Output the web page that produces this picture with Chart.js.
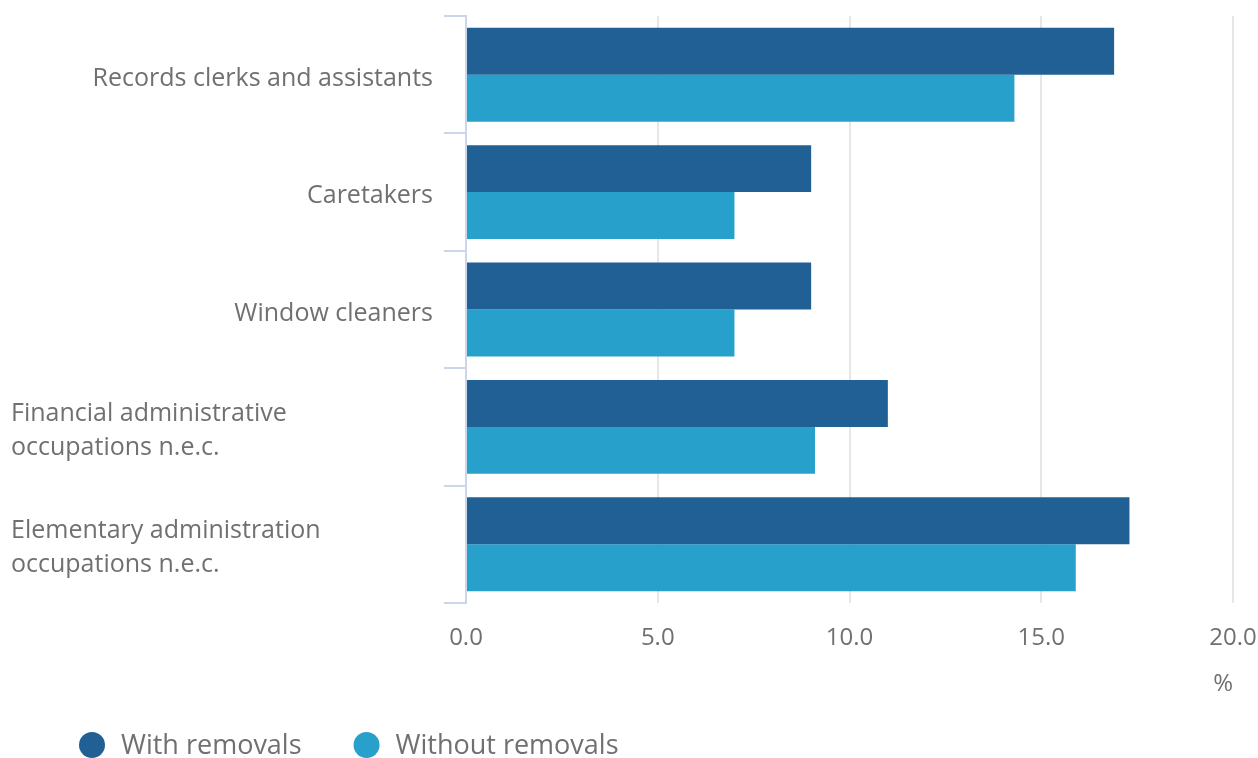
<!DOCTYPE html>
<html lang="en">
  <head>
    <meta charset="UTF-8">
    <title>Occupations</title>
    <script src="https://cdn.jsdelivr.net/npm/chart.js@4/dist/chart.umd.min.js"></script>
    <style>
      body { margin: 0; background: #fff; }
      #chart { display: block; }
    </style>
  </head>
  <body>
    <canvas id="chart" width="1258" height="758"></canvas>
    <script>
      const categories = [
        'Records clerks and assistants',
        'Caretakers',
        'Window cleaners',
        ['Financial administrative', 'occupations n.e.c.'],
        ['Elementary administration', 'occupations n.e.c.'],
      ]
      const withRemovals = [16.9, 9.0, 9.0, 11.0, 17.3]
      const withoutRemovals = [14.3, 7.0, 7.0, 9.1, 15.9]
      const seriesNames = ['With removals', 'Without removals']
      const xTicks = [0, 5, 10, 15, 20]

      const FONT = '"Open Sans", sans-serif'
      const TEXT = '#707070'
      const AXIS = '#ccd6eb'

      // category labels: single lines sit right against the axis, wrapped ones start at the left edge
      const yLabels = {
        id: 'yLabels',
        afterDraw(chart) {
          const { ctx, scales: { y } } = chart
          ctx.save()
          ctx.font = `25px ${FONT}`
          ctx.fillStyle = TEXT
          ctx.textBaseline = 'middle'
          chart.data.labels.forEach((label, i) => {
            const cy = y.getPixelForValue(i) + 4
            if (Array.isArray(label)) {
              ctx.textAlign = 'left'
              label.forEach((line, j) => {
                ctx.fillText(line, 11, cy + (j - (label.length - 1) / 2) * 34)
              })
            } else {
              ctx.textAlign = 'right'
              ctx.fillText(label, y.right - 33, cy)
            }
          })
          ctx.restore()
        }
      }

      const legendDots = {
        id: 'legendDots',
        afterDraw(chart) {
          const { ctx } = chart
          ctx.save()
          ctx.font = `27px ${FONT}`
          ctx.textBaseline = 'middle'
          ctx.textAlign = 'left'
          let x = 79
          const cy = 745
          chart.data.datasets.forEach(ds => {
            ctx.fillStyle = ds.backgroundColor
            ctx.beginPath()
            ctx.arc(x + 13, cy, 13, 0, Math.PI * 2)
            ctx.fill()
            ctx.fillStyle = TEXT
            ctx.fillText(ds.label, x + 42, cy + 1)
            x += 42 + ctx.measureText(ds.label).width + 52
          })
          ctx.restore()
        }
      }

      new Chart(document.getElementById('chart'), {
        type: 'bar',
        data: {
          labels: categories,
          datasets: [
            { label: seriesNames[0], data: withRemovals, backgroundColor: '#206095' },
            { label: seriesNames[1], data: withoutRemovals, backgroundColor: '#27a0cc' },
          ]
        },
        options: {
          indexAxis: 'y',
          responsive: false,
          animation: false,
          layout: { padding: { top: 16, right: 25, bottom: 55, left: 0 } },
          datasets: { bar: { categoryPercentage: 0.8, barPercentage: 1.0 } },
          plugins: {
            legend: { display: false },
            tooltip: { enabled: false },
          },
          scales: {
            x: {
              min: xTicks[0],
              max: xTicks[xTicks.length - 1],
              afterBuildTicks: s => { s.ticks = xTicks.map(value => ({ value })) },
              afterFit: s => {
                s.height = 100
                s.paddingRight = 0
                s.paddingLeft = 0
              },
              border: { display: false },
              grid: {
                drawTicks: false,
                lineWidth: 2,
                color: c => c.tick && c.tick.value === 0 ? 'rgba(0,0,0,0)' : '#e6e6e6',
              },
              ticks: {
                padding: 21,
                color: TEXT,
                font: { family: FONT, size: 24 },
                callback: v => Number(v).toFixed(1),
              },
              title: {
                display: true,
                text: '%',
                align: 'end',
                color: TEXT,
                font: { family: FONT, size: 24 },
                padding: { top: 0, bottom: 4 },
              },
            },
            y: {
              afterFit: s => { s.width = 466 },
              border: { color: AXIS, width: 2 },
              grid: {
                offset: true,
                drawOnChartArea: false,
                tickLength: 22,
                lineWidth: 2,
                color: AXIS,
              },
              ticks: { display: false },
            },
          },
        },
        plugins: [yLabels, legendDots],
      })
    </script>
  </body>
</html>
